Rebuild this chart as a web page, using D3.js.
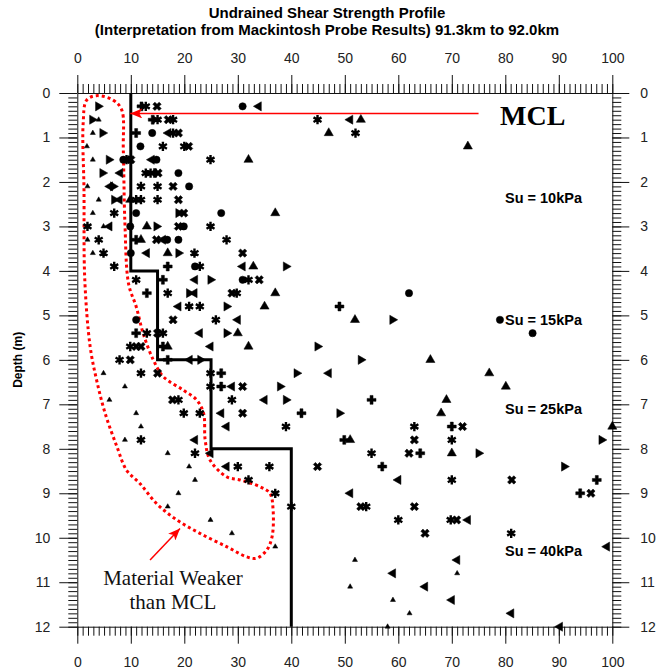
<!DOCTYPE html>
<html>
<head>
<meta charset="utf-8">
<script src="https://cdn.jsdelivr.net/npm/d3@7"></script>
<style>
  body { margin: 0; background: #fff; }
  svg { display: block; font-family: Arial, "Liberation Sans", sans-serif; }
</style>
</head>
<body>
<svg></svg>
<script>
let width = 663;
let height = 670;

// [Su (kPa), depth (m)] for each marker type
let triRight = [[3.9,0.3],[2.8,0.6],[4.7,0.9],[5.9,1.5],[4.7,1.8],[6.7,2.1],[6.9,2.4],[18.9,2.7],[14.8,3.0],
  [18.9,3.6],[39,3.9],[24.9,4.2],[20.9,4.5],[27.9,4.8],[58.9,5.1],[27.9,5.4],[44.9,5.7],[23,6.0],[53,6.0],
  [41,6.3],[37.9,6.6],[39,6.9],[49,7.2],[98,7.8],[75,8.1],[91,8.4]];
let triLeft = [[33.9,0.3],[51,0.6],[17,0.9],[13.9,1.5],[8,1.8],[6.1,2.1],[7.9,2.4],[6,3.0],[16,3.3],[13,3.6],
  [30.9,3.9],[22,4.2],[21.9,4.5],[18.9,4.8],[30,5.1],[22.9,5.4],[24.9,5.7],[21,6.0],[47,6.3],[28.9,6.6],
  [35,6.9],[26.9,7.2],[27.9,7.5],[22,7.8],[24.9,8.1],[27.9,8.4],[60,8.7],[51,9.0],[73,9.6],[99,10.2],
  [71,10.5],[59,10.8],[65,11.1],[70,11.4],[81.1,11.7],[90.2,12.0]];
let triUp = [[53,0.6],[47,0.9],[73,1.2],[32,1.5],[9.9,2.4],[37,2.7],[13,3.0],[11.9,3.3],[16.9,3.6],[32.9,3.9],
  [37,4.5],[35,4.8],[51.9,5.1],[30,5.4],[16.9,5.7],[32,5.7],[66,6.0],[77,6.3],[80.1,6.6],[69,6.9],[68,7.2],
  [100,7.5],[51,7.8],[70,8.1]];
let dots = [[30.9,0.3],[14,0.9],[11.8,1.2],[8.6,1.5],[14.8,1.5],[18.9,1.8],[20.9,2.1],[11,2.7],[26.9,2.7],
  [9.9,3.0],[19.9,3.0],[16.8,3.3],[18.9,3.3],[10,3.6],[22,3.9],[30.9,4.2],[62,4.5],[11,5.1],[79,5.1],[85.1,5.4]];
let pluses = [[12,0.3],[14.1,0.6],[11,0.9],[14.5,1.8],[11,3.3],[16.9,3.9],[16,4.2],[13,4.5],[49,4.8],[11,5.4],
  [16,5.7],[16.9,6.0],[26.9,6.3],[26.9,6.6],[55,6.9],[41.9,7.2],[70,7.5],[49.9,7.8],[64.1,8.1],[57,8.4],
  [97.1,8.7],[94,9.0]];
let crosses = [[14.9,0.3],[17,0.6],[18.9,0.9],[20.8,1.2],[10,1.5],[15.1,1.8],[17.9,2.1],[18.9,2.4],[19.9,2.7],
  [18.9,3.0],[14.8,3.3],[30.9,3.6],[34,4.2],[28.9,4.5],[17.9,5.1],[15,5.4],[11,5.7],[11.9,5.7],[9.9,6.0],
  [15,6.3],[30.9,6.6],[17.8,6.9],[30.9,7.2],[72,7.5],[63,7.8],[62,8.1],[44.9,8.4],[81.2,8.7],[96,9.0],
  [53,9.3],[63,9.3],[70.9,9.6],[65,9.9]];
let stars = [[12.8,0.3],[15,0.6],[17.9,0.6],[44.9,0.6],[17.9,0.9],[52,0.9],[16,1.2],[20,1.2],[9.2,1.5],[24.9,1.5],
  [12.8,1.8],[13.7,1.8],[11.9,2.1],[15,2.1],[11,2.4],[11.9,2.4],[15,2.4],[6.9,2.7],[1.9,3.0],[24.9,3.0],
  [4,3.3],[27.9,3.3],[4.9,3.6],[21.9,3.6],[6.9,3.9],[22.9,3.9],[11,4.2],[32,4.2],[16.9,4.5],[29.8,4.5],
  [20.9,4.8],[22.9,4.8],[25.9,5.1],[13,5.4],[16,5.4],[9.9,5.7],[7.9,6.0],[11.9,6.3],[24.9,6.3],[24.9,6.6],
  [18.9,6.9],[28.9,6.9],[19.9,7.2],[22.9,7.2],[39,7.5],[63,7.5],[11.9,7.8],[70,7.8],[22,8.1],[55,8.1],
  [30,8.4],[35.9,8.4],[32,8.7],[70,8.7],[37,9.0],[40,9.3],[54,9.3],[60,9.6],[69.8,9.6],[81.1,9.9]];
let smallTri = [[4,0.6],[2.9,0.9],[1.8,1.2],[2.9,1.5],[1.9,2.1],[4,2.4],[2.9,2.7],[4.9,3.0],[1.9,3.3],[2.9,3.6],
  [4.9,6.3],[8.9,6.6],[6,6.9],[11,7.2],[11.9,7.5],[8.9,7.8],[16.9,8.1],[20.9,8.4],[22,8.7],[18.9,9.0],
  [16.9,9.3],[24.9,9.6],[28.9,9.9],[37,10.2],[51.9,10.5],[71,10.8],[51,11.1],[59,11.4],[62.1,11.7],[58,12.0]];

// MCL design profile
let mclSu = [10, 10, 15, 15, 25, 25, 40, 40];
let mclDepth = [0, 4, 4, 6, 6, 8, 8, 12];

// outline of the weak material zone
let weakZone = [[3.6,0.06],[6.7,0.16],[8.3,0.38],[8.6,1.28],[8.9,2.92],[9.6,4.3],[11.0,4.8],[12.3,5.4],
  [14.2,6.0],[16.1,6.38],[19.8,6.68],[22.3,6.9],[23.6,7.2],[23.9,7.8],[24.8,8.25],[27.9,8.63],[30.4,8.7],
  [34.1,8.85],[36.0,9.0],[36.6,9.38],[36.4,9.98],[35.4,10.28],[33.5,10.46],[31.7,10.43],[27.9,10.2],
  [22.9,9.9],[18.6,9.6],[14.8,9.23],[11.7,8.78],[9.2,8.48],[7.4,7.95],[5.2,7.2],[3.6,6.45],[2.4,5.7],
  [1.4,4.2],[1.25,2.18],[1.1,0.67],[1.75,0.16]];

let suLabels = [['Su = 10kPa', 2.35], ['Su = 15kPa', 5.1], ['Su = 25kPa', 7.1], ['Su = 40kPa', 10.3]];

let xScale = d3.scaleLinear().domain([0, 100]).range([77.3, 612.3]);
let yScale = d3.scaleLinear().domain([0, 12]).range([93, 626.7]);

let svg = d3.select('svg')
        .attr('width', width)
        .attr('height', height);

// axes: minor ticks then major ticks with labels
let xMinor = d3.range(0, 101, 1);
let xMajor = d3.range(0, 101, 10);
let yMinor = d3.range(0, 121, 1).map(d => d / 10);
let yMajor = d3.range(0, 13, 1);

function drawAxis(axisFn, scale, minor, major, transform, minorLen, majorLen, pad) {
  let g = svg.append('g').attr('transform', transform);
  g.append('g')
        .call(axisFn(scale).tickValues(minor).tickSize(minorLen).tickFormat(''))
        .call(a => a.select('.domain').remove());
  g.append('g')
        .call(axisFn(scale).tickValues(major).tickSize(majorLen).tickSizeOuter(0).tickPadding(pad).tickFormat(d3.format('d')));
  g.selectAll('text').style('font-size', '14px').style('fill', '#222');
  g.selectAll('line, path').attr('stroke', '#111').attr('stroke-width', 1);
  return g;
}

drawAxis(d3.axisTop, xScale, xMinor, xMajor, 'translate(0,93)', 9, 18, 12);
drawAxis(d3.axisBottom, xScale, xMinor, xMajor, 'translate(0,626.7)', 9, 17, 13);
drawAxis(d3.axisLeft, yScale, yMinor, yMajor, 'translate(77.3,0)', 9, 18, 9);
drawAxis(d3.axisRight, yScale, yMinor, yMajor, 'translate(612.3,0)', 9, 17, 11);

// MCL step line
let mcl = mclSu.map((d, i) => [d, mclDepth[i]]);
svg.append('path')
        .datum(mcl)
        .attr('d', d3.line().x(d => xScale(d[0])).y(d => yScale(d[1])))
        .attr('fill', 'none')
        .attr('stroke', '#000')
        .attr('stroke-width', 3);

// weak zone outline
svg.append('path')
        .datum(weakZone)
        .attr('d', d3.line().x(d => xScale(d[0])).y(d => yScale(d[1])).curve(d3.curveCatmullRomClosed))
        .attr('fill', 'none')
        .attr('stroke', '#ff0000')
        .attr('stroke-width', 3)
        .attr('stroke-dasharray', '3,3');

// markers
let series = [
  { data: triRight, type: d3.symbolTriangle, size: 36, rot: 90, fill: true },
  { data: triLeft, type: d3.symbolTriangle, size: 36, rot: -90, fill: true },
  { data: triUp, type: d3.symbolTriangle, size: 36, rot: 0, fill: true },
  { data: dots, type: d3.symbolCircle, size: 42, rot: 0, fill: true },
  { data: pluses, type: d3.symbolCross, size: 44, rot: 0, fill: true },
  { data: crosses, type: d3.symbolCross, size: 44, rot: 45, fill: true },
  { data: stars, type: d3.symbolAsterisk || d3.symbolStar, size: 60, rot: 0, fill: false },
  { data: smallTri, type: d3.symbolTriangle, size: 11, rot: 0, fill: true }
];

series.forEach(s => {
  svg.append('g')
        .selectAll('path')
        .data(s.data)
        .enter()
        .append('path')
        .attr('d', d3.symbol().type(s.type).size(s.size))
        .attr('transform', d => 'translate(' + xScale(d[0]) + ',' + yScale(d[1]) + ') rotate(' + s.rot + ')')
        .attr('fill', s.fill ? '#000' : 'none')
        .attr('stroke', '#000')
        .attr('stroke-width', s.fill ? 0.5 : 2.4);
});

// arrows
svg.append('defs').append('marker')
        .attr('id', 'head')
        .attr('viewBox', '0 0 12 10')
        .attr('refX', 12)
        .attr('refY', 5)
        .attr('markerWidth', 14)
        .attr('markerHeight', 10)
        .attr('markerUnits', 'userSpaceOnUse')
        .attr('orient', 'auto')
        .append('path')
        .attr('d', 'M0,0 L12,5 L0,10 L3,5 Z')
        .attr('fill', '#ff0000');

svg.append('line')
        .attr('x1', xScale(75)).attr('y1', yScale(0.46))
        .attr('x2', xScale(9.9)).attr('y2', yScale(0.46))
        .attr('stroke', '#ff0000')
        .attr('stroke-width', 1.5)
        .attr('marker-end', 'url(#head)');

svg.append('line')
        .attr('x1', xScale(13.6)).attr('y1', yScale(10.5))
        .attr('x2', xScale(19.2)).attr('y2', yScale(9.79))
        .attr('stroke', '#ff0000')
        .attr('stroke-width', 1.5)
        .attr('marker-end', 'url(#head)');

svg.append('text')
        .attr('x', 500)
        .attr('y', 125)
        .style('font-family', '"Liberation Serif", "Times New Roman", serif')
        .style('font-weight', 'bold')
        .style('font-size', '28px')
        .text('MCL');

svg.selectAll('.su')
        .data(suLabels)
        .enter()
        .append('text')
        .attr('class', 'su')
        .attr('x', 505)
        .attr('y', d => yScale(d[1]) + 5)
        .style('font-weight', 'bold')
        .style('font-size', '14.5px')
        .text(d => d[0]);

let weakText = svg.append('text')
        .attr('x', 173)
        .attr('y', 585)
        .style('font-family', '"Liberation Serif", "Times New Roman", serif')
        .style('font-size', '21px')
        .style('text-anchor', 'middle')
        .style('fill', '#111');
weakText.append('tspan').attr('x', 173).text('Material Weaker');
weakText.append('tspan').attr('x', 173).attr('dy', 24).text('than MCL');

svg.append('text')
        .attr('x', 327)
        .attr('y', 18)
        .style('text-anchor', 'middle')
        .style('font-weight', 'bold')
        .style('font-size', '15px')
        .text('Undrained Shear Strength Profile');

svg.append('text')
        .attr('x', 327)
        .attr('y', 35)
        .style('text-anchor', 'middle')
        .style('font-weight', 'bold')
        .style('font-size', '15px')
        .text('(Interpretation from Mackintosh Probe Results) 91.3km to 92.0km');

svg.append('text')
        .attr('transform', 'rotate(-90)')
        .attr('x', -yScale(6))
        .attr('y', 22)
        .style('text-anchor', 'middle')
        .style('font-weight', 'bold')
        .style('font-size', '12px')
        .text('Depth (m)');
</script>
</body>
</html>
